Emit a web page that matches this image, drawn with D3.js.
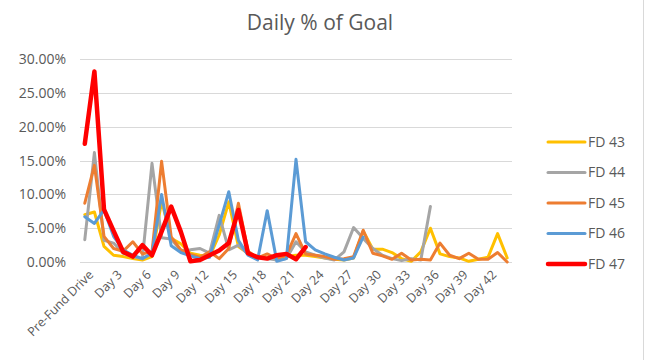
<!DOCTYPE html>
<html>
<head>
<meta charset="utf-8">
<script src="https://cdn.jsdelivr.net/npm/d3@7"></script>
<style>
  html, body { margin: 0; padding: 0; background: #fff; }
  svg { display: block; font-family: "Open Sans", "Noto Sans", sans-serif; }
</style>
</head>
<body>
<svg id="chart" width="645" height="360"></svg>
<script>
// ---- Data ----
const categories = ["Pre-Fund Drive"].concat(d3.range(1, 45).map(d => "Day " + d));
const seriesNames = ["FD 43", "FD 44", "FD 45", "FD 46", "FD 47"];
const fd43 = [7.0, 7.4, 2.3, 1.0, 0.8, 0.5, 0.3, 0.8, 9.0, 3.5, 2.7, 1.3, 1.0, 0.8, 4.0, 8.9, 2.3, 1.3, 0.8, 0.6, 0.5, 0.8, 1.0, 1.0, 0.8, 0.6, 0.4, 0.3, 0.6, 4.6, 1.9, 1.9, 1.4, 0.5, 0.1, 1.5, 5.0, 1.2, 0.8, 0.6, 0.1, 0.4, 0.7, 4.2, 0.6];
const fd44 = [3.3, 16.2, 3.2, 2.8, 1.3, 0.8, 0.5, 14.6, 3.6, 3.4, 1.7, 1.8, 2.0, 1.3, 6.9, 1.8, 2.5, 1.2, 0.7, 0.5, 0.3, 0.5, 3.0, 1.5, 1.0, 0.6, 0.3, 1.5, 5.1, 3.5, 2.0, 1.0, 0.5, 0.2, 0.5, 0.3, 8.2];
const fd45 = [8.7, 14.3, 3.8, 2.0, 1.6, 3.0, 1.2, 1.5, 14.9, 3.7, 1.8, 1.1, 0.7, 1.5, 0.5, 2.0, 8.7, 1.6, 0.6, 1.2, 0.5, 1.0, 4.2, 1.2, 1.0, 0.8, 0.4, 0.5, 0.8, 4.7, 1.3, 0.9, 0.4, 1.3, 0.3, 0.4, 0.3, 2.8, 1.0, 0.5, 1.3, 0.4, 0.4, 1.4, 0.0];
const fd46 = [6.7, 5.7, 7.7, 3.8, 1.8, 1.0, 0.5, 1.3, 10.0, 2.4, 1.4, 0.9, 0.5, 0.7, 5.5, 10.4, 3.2, 1.0, 0.3, 7.6, 0.1, 0.5, 15.2, 3.0, 1.8, 1.2, 0.7, 0.3, 0.6, 3.7];
const fd47 = [17.5, 28.2, 7.8, 4.6, 1.5, 0.8, 2.5, 1.0, 4.5, 8.2, 4.5, 0.1, 0.3, 1.0, 1.7, 2.8, 7.7, 1.3, 0.7, 0.5, 1.0, 1.2, 0.4, 2.2];
const yTicks = [0, 5, 10, 15, 20, 25, 30];
const colors = ["#FFC000", "#A5A5A5", "#ED7D31", "#5B9BD5", "#FF0000"];
const widths = [3, 3, 3, 3, 4.5];
const allSeries = [fd43, fd44, fd45, fd46, fd47];

// ---- Layout ----
const svg = d3.select("#chart");
const plot = { left: 80, right: 512, top: 59.3, bottom: 262 };
const textColor = "#595959";

const x = d3.scalePoint().domain(categories).range([plot.left, plot.right]).padding(0.5);
const y = d3.scaleLinear().domain([0, 30]).range([plot.bottom, plot.top]);

// right-side border
svg.append("line").attr("x1", 643.5).attr("x2", 643.5).attr("y1", 0).attr("y2", 360)
  .attr("stroke", "#d9d9d9").attr("stroke-width", 1);

// Title
svg.append("text").attr("x", 320).attr("y", 30).attr("text-anchor", "middle")
  .attr("font-size", 21).attr("fill", textColor).text("Daily % of Goal");

// Gridlines
svg.append("g").selectAll("line").data(yTicks).join("line")
  .attr("x1", plot.left).attr("x2", plot.right)
  .attr("y1", d => Math.round(y(d)) + 0.5).attr("y2", d => Math.round(y(d)) + 0.5)
  .attr("stroke", "#d9d9d9").attr("stroke-width", 1);

// Y axis labels
const yAxis = d3.axisLeft(y).tickValues(yTicks).tickSize(0).tickPadding(0)
  .tickFormat(d => d.toFixed(2) + "%");
const gy = svg.append("g").attr("transform", `translate(${plot.left - 14},0)`).call(yAxis);
gy.select(".domain").remove();
gy.selectAll("text").attr("font-size", 14).attr("fill", textColor)
  .attr("font-family", "Open Sans, sans-serif");

// X axis labels (every 3rd)
const xAxis = d3.axisBottom(x).tickSize(0).tickPadding(0)
  .tickValues(categories.filter((c, i) => i % 3 === 0));
const gx = svg.append("g").attr("transform", `translate(0,${plot.bottom + 10})`).call(xAxis);
gx.select(".domain").remove();
gx.selectAll("text")
  .attr("font-size", 12.5).attr("fill", textColor).attr("font-family", "Open Sans, sans-serif")
  .attr("text-anchor", "end")
  .attr("dy", "0.7em").attr("dx", "0.3em")
  .attr("transform", "rotate(-45)");

// Lines
const line = d3.line()
  .defined(d => d.v != null)
  .x(d => x(d.c)).y(d => y(d.v));
const lg = svg.append("g");
allSeries.forEach((s, k) => {
  const pts = s.map((v, i) => ({ c: categories[i], v: v }));
  lg.append("path").datum(pts)
    .attr("d", line)
    .attr("fill", "none")
    .attr("stroke", colors[k])
    .attr("stroke-width", widths[k])
    .attr("stroke-linejoin", "round")
    .attr("stroke-linecap", "round");
});

// Legend
const legY = d3.scaleLinear().domain([0, seriesNames.length - 1]).range([142, 264]);
const leg = svg.append("g");
seriesNames.forEach((n, k) => {
  const gy0 = legY(k);
  leg.append("line").attr("x1", 548).attr("x2", 585).attr("y1", gy0).attr("y2", gy0)
    .attr("stroke", colors[k]).attr("stroke-width", widths[k]).attr("stroke-linecap", "round");
  leg.append("text").attr("x", 588).attr("y", gy0).attr("dy", "0.35em")
    .attr("font-size", 14).attr("fill", textColor).text(n);
});
</script>
</body>
</html>
